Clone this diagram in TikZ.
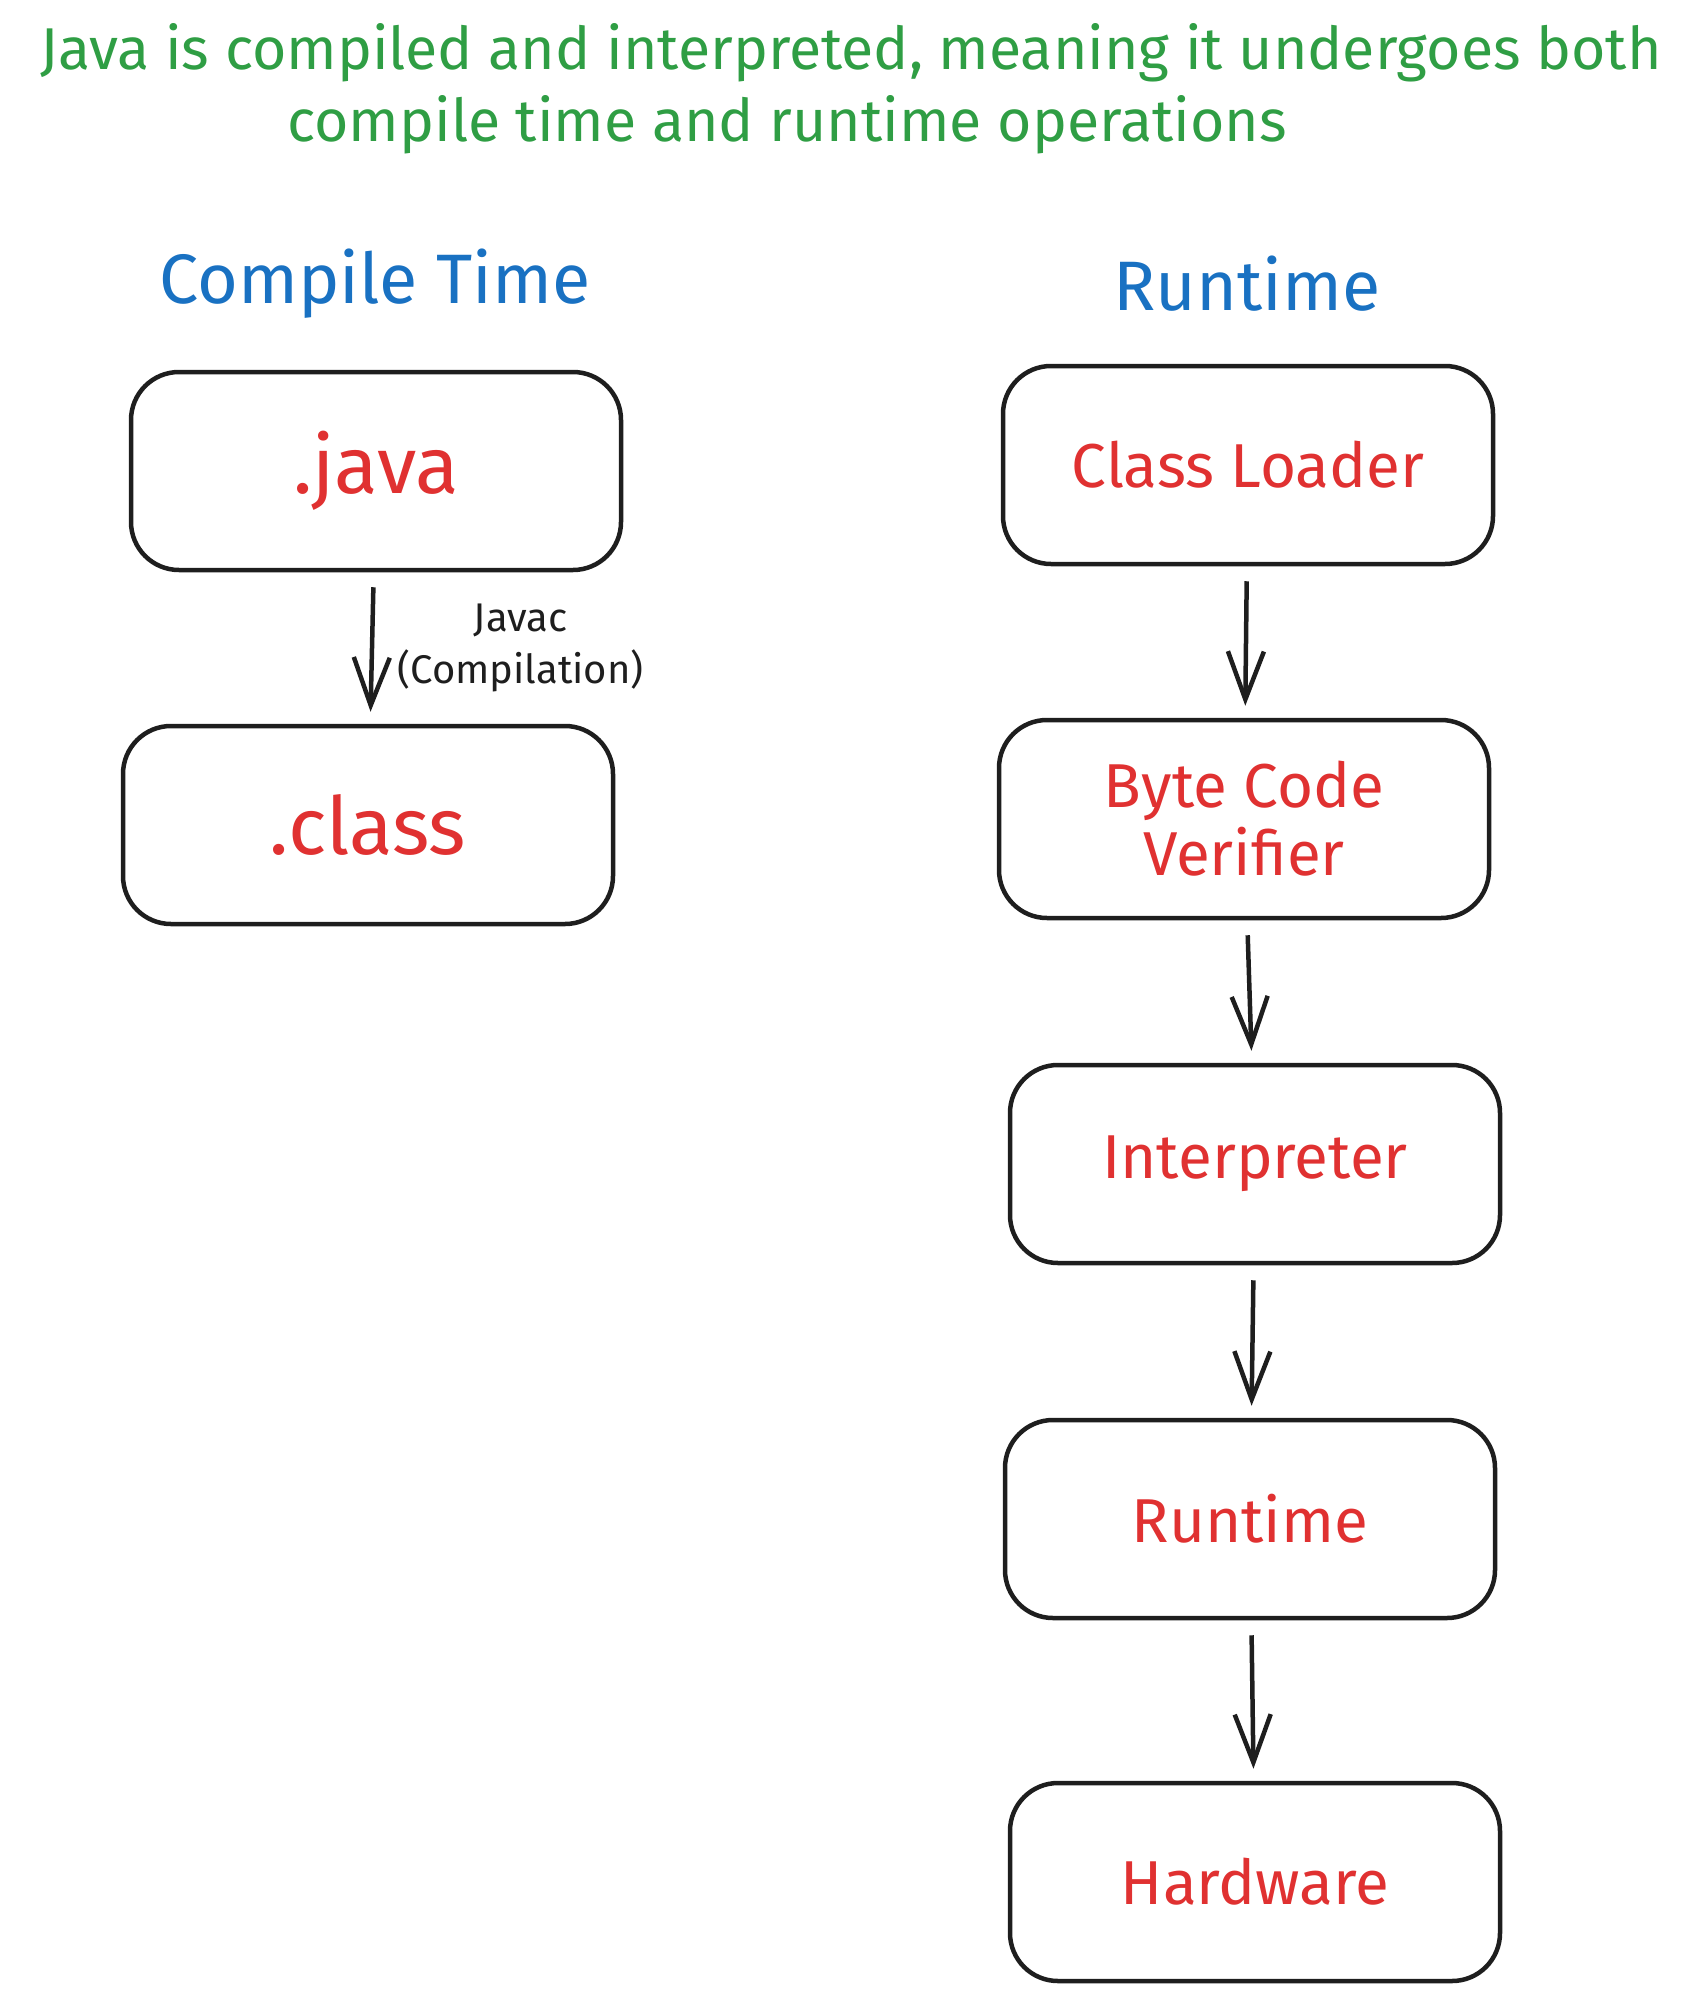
\documentclass[tikz,border=0pt]{standalone}
\usepackage{fontspec}
\setmainfont{Fira Sans}
\usetikzlibrary{arrows.meta}
\definecolor{ink}{HTML}{1E1E1E}
\definecolor{notegreen}{HTML}{2F9E44}
\definecolor{headblue}{HTML}{1971C2}
\definecolor{stepred}{HTML}{E03131}

\begin{document}
\begin{tikzpicture}[x=1pt,y=-1pt,
        box/.style={rectangle,draw=ink,line width=4.5pt,rounded corners=48pt,
            minimum width=490pt,minimum height=198pt,text=stepred,align=center,
            font=\fontsize{62}{68}\selectfont},
        bigbox/.style={box,font=\fontsize{80}{88}\selectfont},
        head/.style={text=headblue,anchor=base,font=\fontsize{70}{80}\selectfont},
        note/.style={text=notegreen,anchor=base,font=\fontsize{59}{72}\selectfont},
        flow/.style={draw=ink,line width=4.5pt,-{Straight Barb[length=48pt,width=36pt]},
            shorten <=15pt,shorten >=12pt}]

            %\draw [help lines] (0,0) grid (1692,2001);
            \useasboundingbox (0,0) rectangle (1692,2001);

            \path   (851,70)  node (note1) [note] {Java is compiled and interpreted, meaning it undergoes both}
                    (787,142) node (note2) [note] {compile time and runtime operations}
                    (375,303) node (ct) [head] {Compile Time}
                    (1247,310) node (rt) [head] {Runtime}
                    (376,471) node (java) [bigbox] {.java}
                    (368,825) node (class) [bigbox] {.class}
                    (1248,465) node (loader) [box] {Class Loader}
                    (1244,819) node (verifier) [box] {Byte Code\\Verifier}
                    (1255,1164) node (interp) [box] {Interpreter}
                    (1250,1519) node (runtime) [box] {Runtime}
                    (1255,1882) node (hw) [box] {Hardware};

            \draw[flow] (node cs: name =java ) -- node (javac) [right=20pt,text=ink,align=center,
                font=\fontsize{40}{52}\selectfont] {Javac\\(Compilation)} (node cs:name =class);
            \draw[flow] (node cs: name =loader ) -- (node cs:name =verifier);
            \draw[flow] (node cs: name =verifier ) -- (node cs:name =interp);
            \draw[flow] (node cs: name =interp ) -- (node cs:name =runtime);
            \draw[flow] (node cs: name =runtime ) -- (node cs:name =hw);
        \end{tikzpicture}
\end{document}
